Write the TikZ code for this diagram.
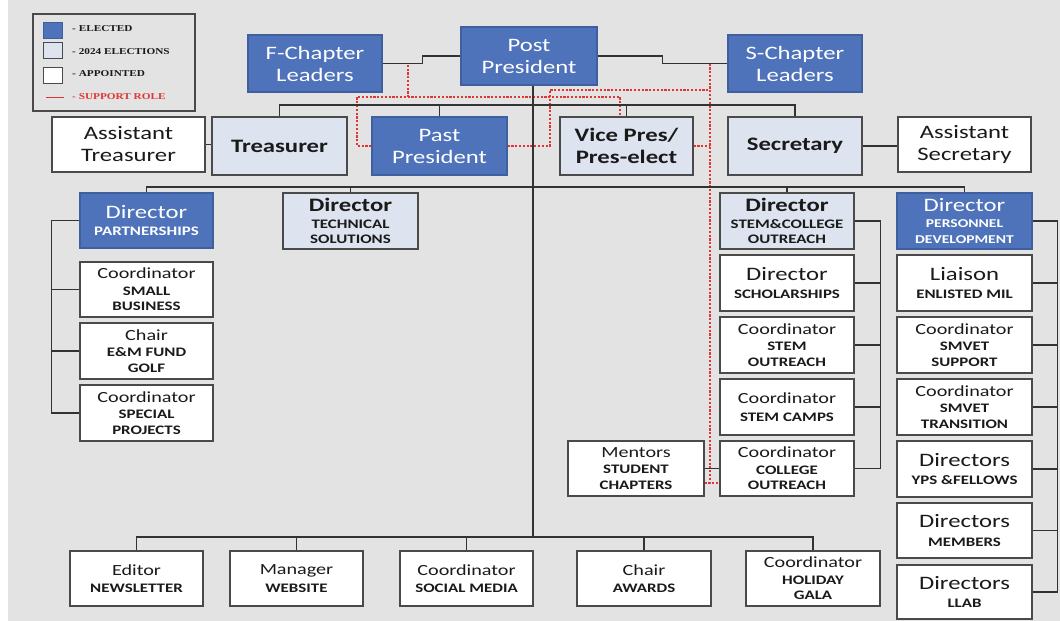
\documentclass[tikz,border=0pt]{standalone}
\usepackage{fontspec}
\setmainfont{Carlito}[FakeStretch=1.3]
\newfontfamily\legfont{Liberation Serif}[FakeStretch=1.25]
\definecolor{bgc}{HTML}{E3E3E3}
\definecolor{elect}{HTML}{4E73BA}
\definecolor{electline}{HTML}{3F5F9F}
\definecolor{pend}{HTML}{DDE3EF}
\definecolor{boxline}{HTML}{4A4A4A}
\definecolor{txt}{HTML}{1A1A1A}
\definecolor{connc}{HTML}{333333}
\definecolor{suppred}{HTML}{E03535}
\newcommand\fL{\fontsize{19}{22}\selectfont}
\newcommand\fM{\fontsize{15.5}{17}\selectfont}
\newcommand\fS{\fontsize{13}{15.5}\selectfont\bfseries}
\newcommand\bx[7]{\node[#1, minimum width={(#5)-(#3)}, minimum height={(#6)-(#4)}] (#2) at ({((#3)+(#5))/2},{((#4)+(#6))/2}) {#7};}
\begin{document}
\begin{tikzpicture}[x=1pt,y=-1pt,
  orgbox/.style={draw=boxline, line width=1.3pt, align=center, inner sep=0pt, text=txt},
  elected/.style={orgbox, fill=elect, draw=electline, text=white},
  pending/.style={orgbox, fill=pend},
  appointed/.style={orgbox, fill=white},
  big/.style={font=\fL},
  mix/.style={font=\fS},
  conn/.style={draw=connc, line width=1.4pt},
  support/.style={draw=suppred, line width=1.7pt, dash pattern=on 2.2pt off 1.6pt},
  legsq/.style={line width=1pt, minimum width=19, minimum height=16, inner sep=0pt},
  legtext/.style={anchor=west, inner sep=0pt, text=txt, font=\legfont\bfseries\fontsize{9}{10}\selectfont},
]
\useasboundingbox (0,0) rectangle (1060,621);
\fill[white] (0,0) rectangle (1060,621);
\fill[bgc] (8,0) rectangle (1060,621);

% legend
\node[draw=boxline, line width=1.3pt, minimum width=162, minimum height=97, inner sep=0pt] (legend) at (114,62.5) {};
\node[legsq, fill=elect, draw=electline] (lg1) at (52.5,30) {};
\node[legsq, fill=pend, draw=boxline] (lg2) at (52.5,50.5) {};
\node[legsq, fill=white, draw=boxline] (lg3) at (52.5,75) {};
\coordinate (lr1) at (46,97);
\coordinate (lr2) at (64,97);
\draw[draw=suppred, line width=1pt] (lr1) -- (lr2);
\node[legtext] (lt1) at (72,29) {- ELECTED};
\node[legtext] (lt2) at (72,52) {- 2024 ELECTIONS};
\node[legtext] (lt3) at (72,74) {- APPOINTED};
\node[legtext, text=suppred] (lt4) at (72,97) {- SUPPORT ROLE};

% top level
\bx{elected,big}{fcl}{248}{35}{382}{92}{F-Chapter\\Leaders}
\bx{elected,big}{pp}{461}{27}{597}{85}{Post\\President}
\bx{elected,big}{scl}{728}{35}{862}{92}{S-Chapter\\Leaders}

% second row
\bx{appointed,big}{atr}{52}{117}{205}{172}{Assistant\\Treasurer}
\bx{pending,big}{tr}{212}{117}{347}{175}{\bfseries Treasurer}
\bx{elected,big}{pastp}{372}{117}{507}{175}{Past\\President}
\bx{pending,big}{vp}{560}{117}{693}{175}{\bfseries Vice Pres/\\\bfseries Pres-elect}
\bx{pending,big}{sec}{728}{117}{862}{175}{\bfseries Secretary}
\bx{appointed,big}{asec}{898}{117}{1031}{172}{Assistant\\Secretary}

% third row
\bx{elected,mix}{dpart}{80}{193}{213}{248}{{\fL\mdseries Director}\\[1pt]PARTNERSHIPS}
\bx{pending,mix}{dtech}{283}{193}{418}{249}{{\fL\bfseries Director}\\[1pt]TECHNICAL\\SOLUTIONS}
\bx{pending,mix}{dstem}{720}{193}{854}{249}{{\fL\bfseries Director}\\[1pt]STEM\&COLLEGE\\OUTREACH}
\bx{elected,mix}{dpers}{897}{193}{1032}{249}{{\fL\mdseries Director}\\[1pt]{\fontsize{12}{14}\selectfont PERSONNEL}\\{\fontsize{12}{14}\selectfont DEVELOPMENT}}

% left column
\bx{appointed,mix}{csb}{80}{262}{213}{317}{{\fM\mdseries Coordinator}\\[1pt]SMALL\\BUSINESS}
\bx{appointed,mix}{golf}{80}{323}{213}{379}{{\fM\mdseries Chair}\\[1pt]E\&M FUND\\GOLF}
\bx{appointed,mix}{csp}{80}{385}{213}{441}{{\fM\mdseries Coordinator}\\[1pt]SPECIAL\\PROJECTS}

% STEM column
\bx{appointed,mix}{dsch}{720}{255}{854}{311}{{\fL\mdseries Director}\\[3pt]SCHOLARSHIPS}
\bx{appointed,mix}{cso}{720}{317}{854}{373}{{\fM\mdseries Coordinator}\\[1pt]STEM\\OUTREACH}
\bx{appointed,mix}{csc}{720}{379}{854}{435}{{\fM\mdseries Coordinator}\\[3pt]STEM CAMPS}
\bx{appointed,mix}{cco}{720}{441}{854}{496}{{\fM\mdseries Coordinator}\\[1pt]COLLEGE\\OUTREACH}
\bx{appointed,mix}{ment}{568}{441}{704}{496}{{\fM\mdseries Mentors}\\[1pt]STUDENT\\CHAPTERS}

% personnel column
\bx{appointed,mix}{lia}{897}{255}{1032}{311}{{\fL\mdseries Liaison}\\[3pt]ENLISTED MIL}
\bx{appointed,mix}{sms}{897}{317}{1032}{373}{{\fM\mdseries Coordinator}\\[1pt]SMVET\\SUPPORT}
\bx{appointed,mix}{smt}{897}{379}{1032}{435}{{\fM\mdseries Coordinator}\\[1pt]SMVET\\TRANSITION}
\bx{appointed,mix}{yps}{897}{441}{1032}{497}{{\fL\mdseries Directors}\\[3pt]YPS \&FELLOWS}
\bx{appointed,mix}{mem}{897}{503}{1032}{558}{{\fL\mdseries Directors}\\[3pt]MEMBERS}
\bx{appointed,mix}{llab}{897}{565}{1032}{619}{{\fL\mdseries Directors}\\[3pt]LLAB}

% bottom row
\bx{appointed,mix}{news}{70}{551}{203}{606}{{\fM\mdseries Editor}\\[2pt]NEWSLETTER}
\bx{appointed,mix}{web}{230}{551}{363}{606}{{\fM\mdseries Manager}\\[2pt]WEBSITE}
\bx{appointed,mix}{soc}{400}{551}{533}{606}{{\fM\mdseries Coordinator}\\[2pt]SOCIAL MEDIA}
\bx{appointed,mix}{awd}{577}{551}{711}{606}{{\fM\mdseries Chair}\\[2pt]AWARDS}
\bx{appointed,mix}{gala}{746}{551}{880}{606}{{\fM\mdseries Coordinator}\\[1pt]HOLIDAY\\GALA}

% bus coordinates
\coordinate (b2) at (0,105);
\coordinate (b3) at (0,187);
\coordinate (b4) at (0,537);
\coordinate (trunk) at (533,0);

% support role (red dashed) below black
\coordinate (r1) at (408,63.5);
\coordinate (r2) at (408,97);
\coordinate (r3) at (357,97);
\coordinate (r4) at (620,97);
\coordinate (r5) at (550,146);
\coordinate (r6) at (550,90);
\coordinate (r7) at (710,90);
\coordinate (r8) at (710,63.5);
\coordinate (r9) at (710,483);
\coordinate (r10) at (0,483);
\coordinate (r11) at (357,146);
\draw[support] (fcl.east) -- (r1) -- (r2);
\draw[support] (pastp.west |- r11) -- (r11) -- (r3) -- (r4) -- (r4 |- vp.north);
\draw[support] (pastp.east |- r5) -- (r5) -- (r6) -- (r7);
\draw[support] (r8) -- (r9);
\draw[support] (vp.east |- r5) -- (r8 |- r5);
\draw[support] (ment.east |- r10) -- (cco.west |- r10);

% connectors
\draw[conn] (fcl.east) -- ++(40,0) |- (pp.west);
\draw[conn] (pp.east) -- ++(65,0) |- (scl.west);
\draw[conn] (pp.south -| trunk) -- (b4 -| trunk);
\draw[conn] (tr.north) -- (tr.north |- b2) -- (sec.north |- b2) -- (sec.north);
\draw[conn] (pastp.north) -- (pastp.north |- b2);
\draw[conn] (vp.north) -- (vp.north |- b2);
\draw[conn] (atr.east) -- (atr.east -| tr.west);
\draw[conn] (sec.east) -- (sec.east -| asec.west);
\draw[conn] (dpart.north) -- (dpart.north |- b3) -- (dpers.north |- b3) -- (dpers.north);
\draw[conn] (dtech.north) -- (dtech.north |- b3);
\draw[conn] (dstem.north) -- (dstem.north |- b3);
% left bracket
\draw[conn] (dpart.west) -- ++(-28,0) |- (csp.west);
\draw[conn] (csb.west) -- ++(-28,0);
\draw[conn] (golf.west) -- ++(-28,0);
% stem bracket
\draw[conn] (dstem.east) -- ++(26,0) |- (cco.east);
\draw[conn] (dsch.east) -- ++(26,0);
\draw[conn] (cso.east) -- ++(26,0);
\draw[conn] (csc.east) -- ++(26,0);
% personnel bracket
\draw[conn] (dpers.east) -- ++(25,0) |- (llab.east);
\foreach \n in {lia,sms,smt,yps,mem} \draw[conn] (\n.east) -- ++(25,0);
% mentors
\draw[conn] (ment.east) -- (cco.west);
% bottom bus
\draw[conn] (news.north) -- (news.north |- b4) -- (gala.north |- b4) -- (gala.north);
\foreach \n in {web,soc,awd} \draw[conn] (\n.north) -- (\n.north |- b4);
\end{tikzpicture}
\end{document}
